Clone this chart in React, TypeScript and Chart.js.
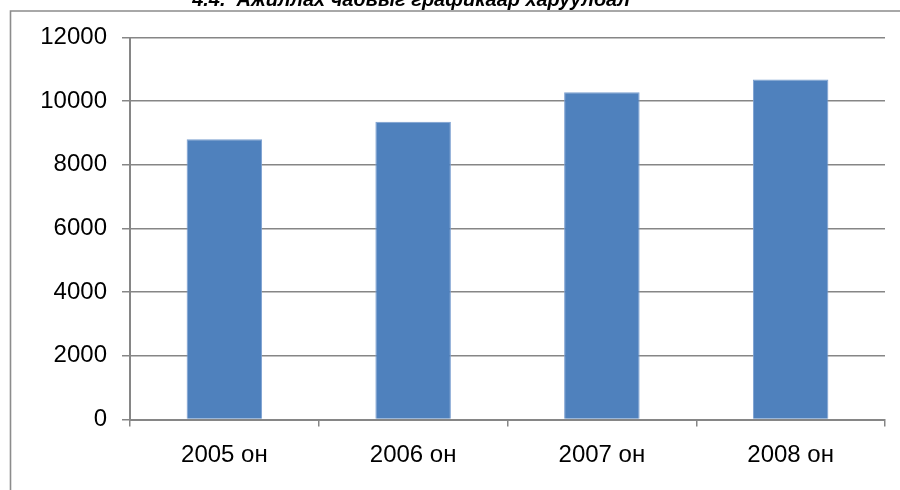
import React, { useEffect, useRef } from "react";
import { Chart, registerables } from "chart.js";

Chart.register(...registerables);

const categories = ["2005 он", "2006 он", "2007 он", "2008 он"];
const values = [8800, 9350, 10280, 10680];
const yTicks = [0, 2000, 4000, 6000, 8000, 10000, 12000];
const titleText = "4.4.  Ажиллах чадвыг графикаар харуулбал";

export default function App() {
  const ref = useRef<HTMLCanvasElement | null>(null);

  useEffect(() => {
    document.body.style.margin = "0";
    const canvas = ref.current!;
    const framePlugin = {
      id: "frame",
      beforeDraw(chart: any) {
        const ctx = chart.ctx;
        ctx.save();
        ctx.fillStyle = "#ffffff";
        ctx.fillRect(0, 0, chart.width, chart.height);
        ctx.strokeStyle = "#8c8c8c";
        ctx.lineWidth = 1.6;
        ctx.beginPath();
        ctx.moveTo(10.5, chart.height + 2);
        ctx.lineTo(10.5, 11);
        ctx.lineTo(chart.width + 2, 11);
        ctx.stroke();
        ctx.fillStyle = "#000000";
        ctx.font = "italic bold 20px 'Liberation Sans', Arial, sans-serif";
        ctx.textAlign = "center";
        ctx.textBaseline = "alphabetic";
        ctx.fillText(titleText, 411, 6);
        ctx.restore();
      },
    };

    const chart = new Chart(canvas, {
      type: "bar",
      data: {
        labels: categories,
        datasets: [
          {
            data: values,
            backgroundColor: "#4F81BD",
            borderColor: "#7a9fd0",
            borderWidth: 1,
            barPercentage: 0.4,
            categoryPercentage: 1,
          },
        ],
      },
      options: {
        animation: false,
        responsive: false,
        events: [],
        layout: { padding: { left: 0, right: 15, top: 37.5, bottom: 0 } },
        plugins: {
          legend: { display: false },
          tooltip: { enabled: false },
          title: { display: false },
        },
        scales: {
          x: {
            grid: {
              offset: true,
              display: true,
              drawOnChartArea: false,
              drawTicks: true,
              tickLength: 7,
              color: "#868686",
              lineWidth: 1.5,
            },
            border: { display: true, color: "#868686", width: 2 },
            ticks: {
              color: "#000000",
              font: { family: "'Liberation Sans', Arial, sans-serif", size: 24 },
              padding: 14,
            },
            afterFit(scale: any) {
              scale.height = 70.5;
            },
          },
          y: {
            min: 0,
            max: 12000,
            afterBuildTicks(scale: any) {
              scale.ticks = yTicks.map((v) => ({ value: v }));
            },
            grid: {
              color: "#868686",
              lineWidth: 1.5,
              drawTicks: true,
              tickLength: 8,
            },
            border: { display: true, color: "#868686", width: 2 },
            ticks: {
              color: "#000000",
              font: { family: "'Liberation Sans', Arial, sans-serif", size: 24 },
              padding: 15,
              callback: (v: any) => String(v),
            },
            afterFit(scale: any) {
              scale.width = 130;
            },
          },
        },
      },
      plugins: [framePlugin],
    });
    return () => chart.destroy();
  }, []);

  return <canvas ref={ref} width={900} height={490} style={{ display: "block" }} />;
}
